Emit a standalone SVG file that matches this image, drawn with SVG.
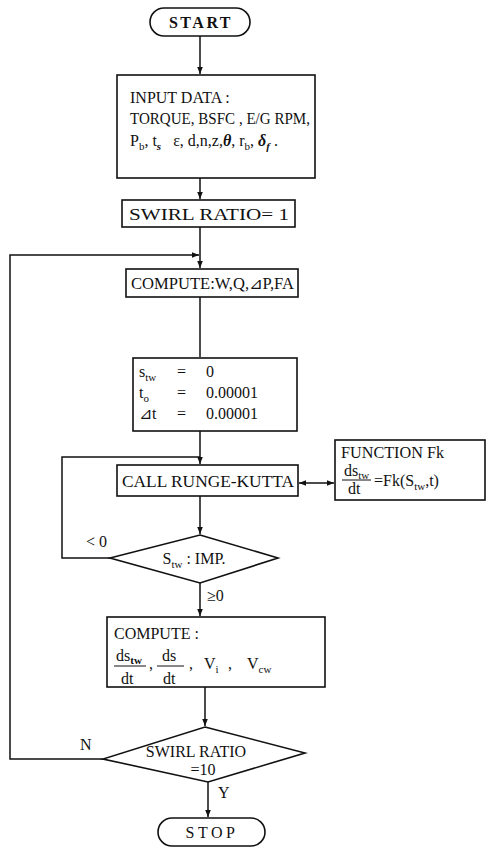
<svg xmlns="http://www.w3.org/2000/svg" width="488" height="849" viewBox="0 0 488 849">
<style>
.b{fill:#fff;stroke:#111;stroke-width:1.6}
.c{fill:none;stroke:#111;stroke-width:1.5}
text{font-family:"Liberation Serif","DejaVu Serif",serif;fill:#111;font-size:16px}
.s{font-size:11px}
.m{text-anchor:middle}
</style>
<defs>
<marker id="a" viewBox="0 0 10 10" refX="10" refY="5" markerWidth="7" markerHeight="7" orient="auto-start-reverse" markerUnits="userSpaceOnUse">
<path d="M0,1 L10,5 L0,9 Z" fill="#111"/>
</marker>
</defs>
<rect width="488" height="849" fill="#fff"/>
<g id="connectors">
<path class="c" d="M200,36 V74" marker-end="url(#a)"/>
<path class="c" d="M200,178 V199" marker-end="url(#a)"/>
<path class="c" d="M200,227 V268" marker-end="url(#a)"/>
<path class="c" d="M103,759 H10 V255 H199" marker-end="url(#a)"/>
<path class="c" d="M200,297 V357"/>
<path class="c" d="M200,431 V464" marker-end="url(#a)"/>
<path class="c" d="M110,558 H62 V457 H200"/>
<path class="c" d="M299,483 H334" marker-start="url(#a)" marker-end="url(#a)"/>
<path class="c" d="M200,496 V534" marker-end="url(#a)"/>
<path class="c" d="M200,583 V616" marker-end="url(#a)"/>
<path class="c" d="M205,687 V726" marker-end="url(#a)"/>
<path class="c" d="M208,782 V817" marker-end="url(#a)"/>
<text x="86" y="547">&lt; 0</text>
<text x="207" y="601">≥0</text>
<text x="80" y="750">N</text>
<text x="218" y="798">Y</text>
</g>
<g id="start">
<rect class="b" x="150" y="8" width="100" height="28" rx="14"/>
<text class="m" x="201" y="28" font-weight="bold" letter-spacing="2.5">START</text>
</g>
<g id="input">
<rect class="b" x="117" y="75" width="198" height="103"/>
<text x="130" y="103" font-size="15">INPUT DATA :</text>
<text x="130" y="124" textLength="180" lengthAdjust="spacingAndGlyphs">TORQUE, BSFC , E/G RPM,</text>
<text x="130" y="146">P<tspan class="s" dy="4">b</tspan><tspan dy="-4">, t</tspan><tspan class="s" dy="4" font-style="italic" font-weight="bold">s</tspan><tspan dy="-4" dx="12">ε, d,n,z,</tspan><tspan font-style="italic" font-weight="bold">θ</tspan><tspan>, r</tspan><tspan class="s" dy="4">b</tspan><tspan dy="-4">,  </tspan><tspan font-style="italic" font-weight="bold">δ</tspan><tspan class="s" dy="4" font-style="italic" font-weight="bold">f</tspan><tspan dy="-4">  .</tspan></text>
</g>
<g id="swirl">
<rect class="b" x="122" y="200" width="173" height="27"/>
<text x="129" y="220" textLength="160" lengthAdjust="spacingAndGlyphs">SWIRL RATIO= 1</text>
</g>
<g id="compute1">
<rect class="b" x="126" y="269" width="172" height="28"/>
<text x="131" y="289" textLength="163" lengthAdjust="spacingAndGlyphs">COMPUTE:W,Q,⊿P,FA</text>
</g>
<g id="init">
<rect class="b" x="133" y="358" width="164" height="73"/>
<text x="139" y="377">s<tspan class="s" dy="4">tw</tspan><tspan dy="-4" x="177">=</tspan><tspan x="206">0</tspan></text>
<text x="139" y="398">t<tspan class="s" dy="4">o</tspan><tspan dy="-4" x="177">=</tspan><tspan x="206">0.00001</tspan></text>
<text x="139" y="419">⊿t<tspan x="177">=</tspan><tspan x="206">0.00001</tspan></text>
</g>
<g id="runge">
<rect class="b" x="117" y="465" width="181" height="31"/>
<text x="122" y="487" textLength="172" lengthAdjust="spacingAndGlyphs">CALL RUNGE-KUTTA</text>
</g>
<g id="fk">
<rect class="b" x="335" y="440" width="150" height="60"/>
<text x="341" y="458" textLength="103" lengthAdjust="spacingAndGlyphs">FUNCTION Fk</text>
<text x="344" y="476" font-size="14">ds<tspan class="s" dy="3">tw</tspan></text>
<line x1="342" y1="480" x2="371" y2="480" stroke="#111" stroke-width="1"/>
<text x="348" y="494" font-size="14">dt</text>
<text x="374" y="486" font-size="15">=Fk(S<tspan class="s" dy="4">tw</tspan><tspan dy="-4">,t)</tspan></text>
</g>
<g id="imp">
<polygon class="b" points="200,535 278,558 200,583 110,558"/>
<text class="m" x="194" y="564">S<tspan class="s" dy="4">tw</tspan><tspan dy="-4"> :  IMP.</tspan></text>
</g>
<g id="compute2">
<rect class="b" x="107" y="617" width="218" height="70"/>
<text x="114" y="639">COMPUTE :</text>
<text x="116" y="661" font-size="15">ds<tspan class="s" dy="3" font-weight="bold">tw</tspan></text>
<line x1="114" y1="666" x2="146" y2="666" stroke="#111" stroke-width="1"/>
<text x="121" y="684" font-size="15">dt</text>
<text x="149" y="669">,</text>
<text x="162" y="661" font-size="15">ds</text>
<line x1="157" y1="666" x2="184" y2="666" stroke="#111" stroke-width="1"/>
<text x="163" y="684" font-size="15">dt</text>
<text x="189" y="669">,</text>
<text x="204" y="669">V<tspan class="s" dy="4">i</tspan></text>
<text x="228" y="669">,</text>
<text x="247" y="669">V<tspan class="s" dy="4">cw</tspan></text>
</g>
<g id="swirl10">
<polygon class="b" points="205,727 305,753 208,782 103,759"/>
<text class="m" x="196" y="757" font-size="14">SWIRL RATIO</text>
<text class="m" x="203" y="775" font-size="13">=10</text>
</g>
<g id="stop">
<rect class="b" x="158" y="818" width="107" height="28" rx="14"/>
<text class="m" x="212" y="838" letter-spacing="3.5">STOP</text>
</g>
</svg>
